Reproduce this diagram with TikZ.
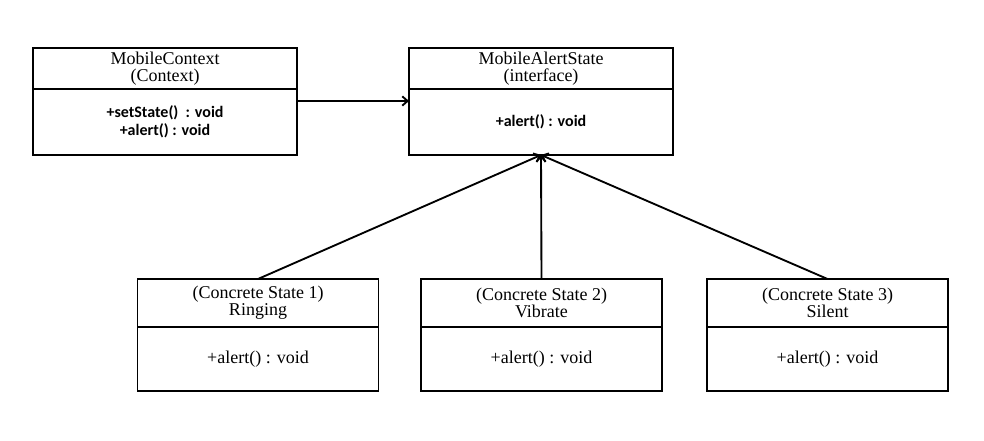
\documentclass[tikz,border=0pt]{standalone}
\usepackage{fontspec}
\setmainfont{Liberation Serif}
\newfontfamily\methfont{Carlito}
\usetikzlibrary{positioning,arrows.meta}
\tikzset{
  box/.style={draw, line width=1.4pt, outer sep=0pt, inner sep=0pt, align=center, font=\fontsize{13.5}{13}\selectfont},
  tophead/.style={box, minimum width=198pt, minimum height=30.75pt},
  topbody/.style={box, minimum width=198pt, minimum height=49.5pt, font=\methfont\bfseries\fontsize{12}{13.5}\selectfont},
  lowhead/.style={box, minimum width=180.75pt, minimum height=36pt},
  lowbody/.style={box, minimum width=180.75pt, minimum height=48pt},
  link/.style={-{Straight Barb[length=4pt,width=7pt]}, line width=1.4pt}
}
\begin{document}
\begin{tikzpicture}[x=0.75pt, y=-0.75pt]
  \useasboundingbox (0,0) rectangle (984,441);

  \node[tophead] (ctxh) at (165,68.5) {MobileContext\\(Context)}; % context class
  \node[topbody, below=0pt of ctxh] (ctxb) {+setState()\ \ : void\\+alert() : void};

  \node[tophead] (alerth) at (541,68.5) {MobileAlertState\\(interface)}; % interface
  \node[topbody, below=0pt of alerth] (alertb) {+alert() : void};

  \node[lowhead] (ringh) at (258,303) {(Concrete State 1)\\Ringing}; % state 1
  \node[lowbody, below=0pt of ringh] (ringb) {+alert() : void};

  \node[lowhead] (vibh) at (541.5,303) {(Concrete State 2)\\Vibrate}; % state 2
  \node[lowbody, below=0pt of vibh] (vibb) {+alert() : void};

  \node[lowhead] (silh) at (827.5,303) {(Concrete State 3)\\Silent}; % state 3
  \node[lowbody, below=0pt of silh] (silb) {+alert() : void};

  \draw[link] ([yshift=-9pt]ctxb.north east) -- ([yshift=-9pt]alertb.north west); % context uses state

  \draw[link] (ringh.north) -- (alertb.south); % implements
  \draw[link] (vibh.north) -- (alertb.south);
  \draw[link] (silh.north) -- (alertb.south);
\end{tikzpicture}
\end{document}
